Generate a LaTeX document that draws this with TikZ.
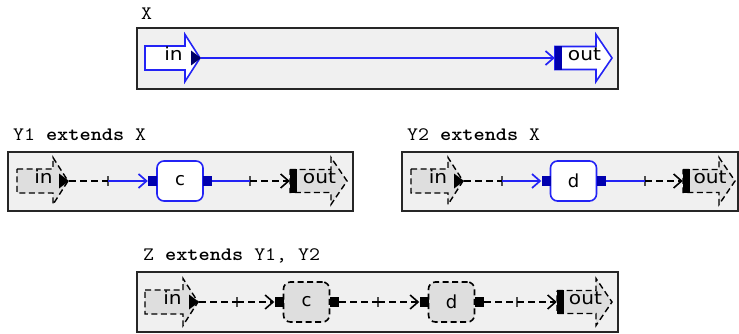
\documentclass[tikz,border=0pt]{standalone}
\usepackage{graphicx}
\usepackage{fontspec}
\newfontfamily\portfont{DejaVu Sans}
\usetikzlibrary{arrows.meta}
\definecolor{lineblue}{RGB}{35,35,245}
\definecolor{portblue}{RGB}{0,0,175}
\definecolor{panelgray}{RGB}{240,240,240}
\definecolor{ghost}{RGB}{222,222,222}
\tikzset{
  panel/.style={draw=black!85, line width=1.8pt, fill=panelgray},
  title/.style={anchor=base west, inner sep=0, font=\fontsize{19}{19}\selectfont\ttfamily},
  solidport/.style={draw=lineblue, line width=1.6pt, fill=white},
  ghostport/.style={draw=black, line width=1.4pt, dash pattern=on 6pt off 3.5pt, fill=ghost},
  plabel/.style={anchor=mid, inner sep=0, font=\portfont\fontsize{18}{18}\selectfont},
  sq/.style={minimum width=9pt, minimum height=10pt, inner sep=0, draw=none},
  bluesq/.style={sq, fill=portblue},
  blacksq/.style={sq, fill=black},
  comp/.style={rounded corners=7pt, minimum width=46pt, minimum height=40pt, inner sep=0, line width=1.6pt, font=\portfont\fontsize{18}{18}\selectfont},
  bluecomp/.style={comp, draw=lineblue, fill=white},
  ghostcomp/.style={comp, draw=black, dash pattern=on 6pt off 3.5pt, fill=ghost},
  bluewire/.style={draw=lineblue, line width=1.7pt},
  ghostwire/.style={draw=black, line width=1.6pt, dash pattern=on 7pt off 4pt},
  tipped/.style={-{Straight Barb[length=8pt,width=14pt]}},
  tickmark/.style={minimum width=2.2pt, minimum height=10pt, inner sep=0, fill=black!70, draw=none},
  outbar/.style={minimum width=7pt, minimum height=24pt, inner sep=0, draw=none},
}
% #1 style, #2 left, #3 tip, #4 y, #5 name, #6 marker colour
\newcommand\drawinarrow[6]{%
  \draw[#1] (#2,#4-12) -- (#3-15,#4-12) -- (#3-15,#4-23.5) -- (#3,#4) -- (#3-15,#4+23.5) -- (#3-15,#4+12) -- (#2,#4+12) -- cycle;
  \fill[#6] (#3+1,#4) -- (#3-9,#4-7.5) -- (#3-9,#4+7.5) -- cycle;
  \node[plabel] (#5) at ({(#2+#3)/2+1},#4) {\scalebox{1.12}[1]{in}};
  \coordinate (#5tip) at (#3+1,#4);
}
% #1 style, #2 left, #3 tip, #4 y, #5 name, #6 bar colour
\newcommand\drawoutarrow[6]{%
  \draw[#1] (#2,#4-11.5) -- (#3-16,#4-11.5) -- (#3-16,#4-23.5) -- (#3,#4) -- (#3-16,#4+23.5) -- (#3-16,#4+11.5) -- (#2,#4+11.5) -- cycle;
  \node[plabel] (#5) at ({(#2+#3)/2+1},#4) {\scalebox{1.12}[1]{out}};
  \node[outbar, fill=#6] (#5bar) at (#2+3.5,#4) {};
}
\begin{document}
\begin{tikzpicture}[x=1pt,y=-1pt]
\useasboundingbox (0,0) rectangle (739,334);
\fill[white] (0,0) rectangle (739,334);

% ---------- X ----------
\node[title] (tX) at (141,20) {\scalebox{1.12}[1]{X}};
\draw[panel] (137,28) rectangle (618,89);
\drawinarrow{solidport}{145}{200}{58}{Xin}{portblue!60!black}
\drawoutarrow{solidport}{555}{612}{58}{Xout}{portblue}
\draw[bluewire, tipped] (Xintip) -- (Xoutbar.west);

% ---------- Y1 ----------
\node[title] (tY1) at (13,141) {\scalebox{1.12}[1]{Y1 \textbf{extends} X}};
\draw[panel] (8,152) rectangle (353,211);
\drawinarrow{ghostport}{17}{68}{181}{Yain}{black}
\drawoutarrow{ghostport}{290}{347}{181}{Yaout}{black}
\node[tickmark] (ya1) at (108,181) {};
\node[tickmark] (ya2) at (250,181) {};
\node[bluecomp] (c1) at (180,181) {c};
\node[bluesq] (c1L) at (152.5,181) {};
\node[bluesq] (c1R) at (207.5,181) {};
\draw[ghostwire] (Yaintip) -- (ya1.center);
\draw[bluewire, tipped] (ya1.center) -- (c1L.west);
\draw[bluewire] (c1R.east) -- (ya2.center);
\draw[ghostwire, tipped] (ya2.center) -- (Yaoutbar.west);

% ---------- Y2 ----------
\node[title] (tY2) at (407,141) {\scalebox{1.12}[1]{Y2 \textbf{extends} X}};
\draw[panel] (402,152) rectangle (738,211);
\drawinarrow{ghostport}{411}{463}{181}{Ybin}{black}
\drawoutarrow{ghostport}{683}{735}{181}{Ybout}{black}
\node[tickmark] (yb1) at (502,181) {};
\node[tickmark] (yb2) at (645,181) {};
\node[bluecomp] (d1) at (573.5,181) {d};
\node[bluesq] (d1L) at (546,181) {};
\node[bluesq] (d1R) at (601,181) {};
\draw[ghostwire] (Ybintip) -- (yb1.center);
\draw[bluewire, tipped] (yb1.center) -- (d1L.west);
\draw[bluewire] (d1R.east) -- (yb2.center);
\draw[ghostwire, tipped] (yb2.center) -- (Yboutbar.west);

% ---------- Z ----------
\node[title] (tZ) at (143,260) {\scalebox{1.12}[1]{Z \textbf{extends} Y1, Y2}};
\draw[panel] (137,272) rectangle (618,332);
\drawinarrow{ghostport}{145}{198}{302}{Zin}{black}
\drawoutarrow{ghostport}{557}{612}{302}{Zout}{black}
\node[tickmark] (z1) at (237,302) {};
\node[tickmark] (z2) at (378,302) {};
\node[tickmark] (z3) at (517,302) {};
\node[ghostcomp] (c2) at (306.5,302) {c};
\node[blacksq] (c2L) at (279,302) {};
\node[blacksq] (c2R) at (334.5,302) {};
\node[ghostcomp] (d2) at (451.5,302) {d};
\node[blacksq] (d2L) at (424,302) {};
\node[blacksq] (d2R) at (479.5,302) {};
\draw[ghostwire] (Zintip) -- (z1.center);
\draw[ghostwire, tipped] (z1.center) -- (c2L.west);
\draw[ghostwire] (c2R.east) -- (z2.center);
\draw[ghostwire, tipped] (z2.center) -- (d2L.west);
\draw[ghostwire] (d2R.east) -- (z3.center);
\draw[ghostwire, tipped] (z3.center) -- (Zoutbar.west);
\end{tikzpicture}
\end{document}
